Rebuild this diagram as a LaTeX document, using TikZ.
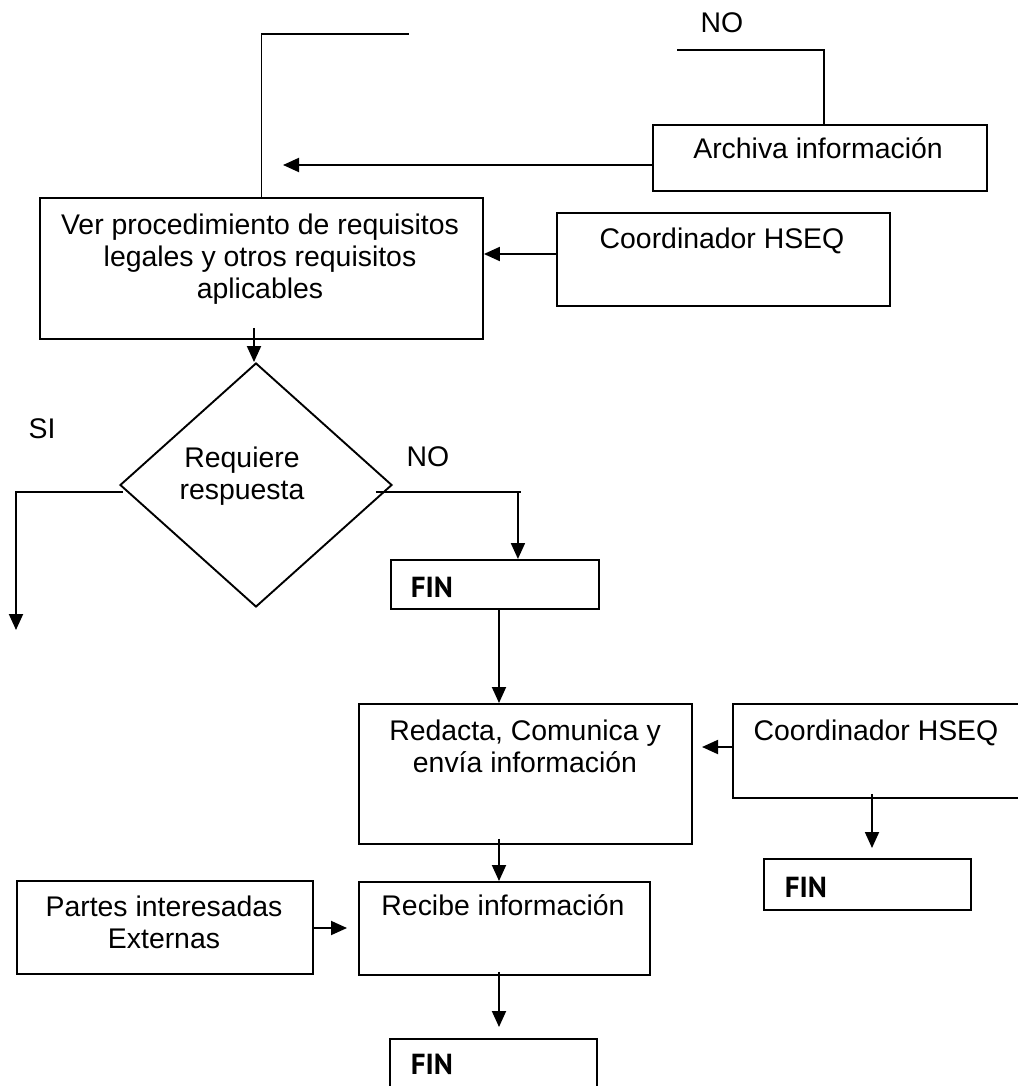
\documentclass[tikz,border=0pt]{standalone}
\usepackage{fontspec}
\setmainfont{Liberation Sans}
\newfontfamily\finfont{PT Sans}
\usetikzlibrary{shapes.geometric,arrows.meta,calc}

\begin{document}
\begin{tikzpicture}[x=1pt,y=-1pt,
  line width=1.9pt,
  box/.style={draw, rectangle, inner sep=0pt, anchor=north west},
  txt/.style={inner sep=0pt, font=\fontsize{28.4}{32}\selectfont, align=center},
  fintxt/.style={inner sep=0pt, anchor=base west, font=\finfont\bfseries\fontsize{29}{32}\selectfont},
  arr/.style={-{Triangle[length=16pt,width=14pt]}},
]
\useasboundingbox (0,0) rectangle (1017,1086);

% boxes
\node[box, minimum width=443pt, minimum height=141pt] (ver) at (39,197) {};
\node[box, minimum width=334pt, minimum height=66pt] (arch) at (652,124) {};
\node[box, minimum width=333pt, minimum height=93pt] (c1) at (556,212) {};
\node[draw, diamond, inner sep=0pt, minimum width=272pt, minimum height=244pt] (dia) at (256,485) {};
\node[box, minimum width=208pt, minimum height=49pt] (fin1) at (390,559) {};
\node[box, minimum width=333pt, minimum height=140pt] (red) at (358,703) {};
\node[box, minimum width=300pt, minimum height=94pt] (c2) at (732,703) {};
\node[box, minimum width=207pt, minimum height=51pt] (fin2) at (763,858) {};
\node[box, minimum width=296pt, minimum height=93pt] (par) at (16,880) {};
\node[box, minimum width=291pt, minimum height=93pt] (rec) at (358,881) {};
\node[box, minimum width=207pt, minimum height=70pt] (fin3) at (389,1038) {};

% texts
\node[txt, anchor=north] (vertxt) at (260,213) {Ver procedimiento de requisitos\\legales y otros requisitos\\aplicables};
\node[txt, anchor=base] (archtxt) at (818,159) {Archiva información};
\node[txt, anchor=base] (c1txt) at (722,248) {Coordinador HSEQ};
\node[txt, anchor=north] (diatxt) at (242,446) {Requiere\\respuesta};
\node[txt, anchor=base] (si) at (42,438) {SI};
\node[txt, anchor=base] (nomid) at (428,466) {NO};
\node[txt, anchor=base] (notop) at (722,33) {NO};
\node[fintxt] (fin1txt) at (410,597) {FIN};
\node[txt, anchor=north] (redtxt) at (525,719) {Redacta, Comunica y\\envía información};
\node[txt, anchor=base] (c2txt) at (876,740) {Coordinador HSEQ};
\node[fintxt] (fin2txt) at (784,897) {FIN};
\node[txt, anchor=north] (partxt) at (164,895) {Partes interesadas\\Externas};
\node[txt, anchor=base] (rectxt) at (503,915) {Recibe información};
\node[fintxt] (fin3txt) at (410,1074) {FIN};

% reference points for connectors
\coordinate (topend) at (409,34);
\coordinate (noend) at (677,50);
\coordinate (archtip) at (283,165);
\coordinate (c1row) at (0,254);
\coordinate (siend) at (16,630);
\coordinate (colx) at (499,0);
\coordinate (nostub) at (521,492);
\coordinate (finin) at ($(fin1.north)+(23,0)$);
\coordinate (c2tip) at (702,747);
\coordinate (c2col) at (872,0);
\coordinate (partip) at (347,928);

% connectors
\draw (ver.north) |- (topend);
\draw (noend) -| ($(arch.north)+(4,0)$);
\draw[arr] (arch.west |- archtip) -- (archtip);
\draw[arr] (c1.west |- c1row) -- (ver.east |- c1row);
\draw[arr] ($(dia.north |- ver.south)+(-2,-12)$) -- ($(dia.north)+(-2,0)$);
\draw[arr] ($(dia.west)+(4,7)$) -| (siend);
\draw ($(dia.east)+(-17,7)$) -- (nostub);
\draw[arr] (finin |- nostub) -- (finin);
\draw[arr] (fin1.south -| colx) -- (red.north -| colx);
\draw[arr] (c2.west |- c2tip) -- (c2tip);
\draw[arr] ($(c2.south -| c2col)+(0,-5)$) -- ($(fin2.north -| c2col)+(0,-10)$);
\draw[arr] ($(red.south -| colx)+(0,-6)$) -- (rec.north -| colx);
\draw[arr] (par.east |- partip) -- (partip);
\draw[arr] ($(rec.south -| colx)+(0,-4)$) -- ($(fin3.north -| colx)+(0,-11)$);
\end{tikzpicture}
\end{document}
